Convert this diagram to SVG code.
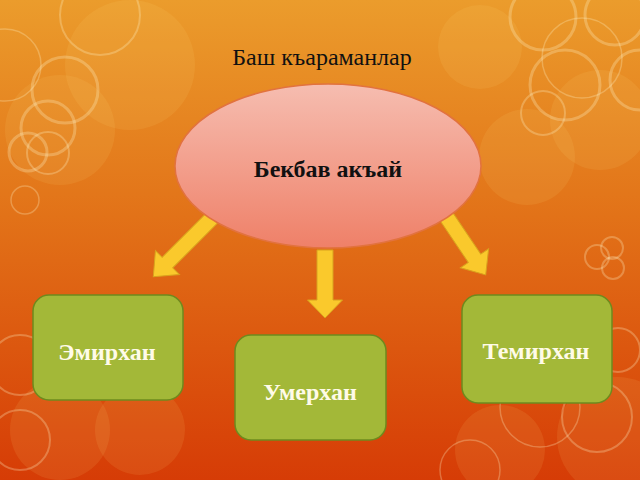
<svg xmlns="http://www.w3.org/2000/svg" width="640" height="480" viewBox="0 0 640 480">
<defs>
<linearGradient id="bg" x1="0" y1="0" x2="0" y2="1">
<stop offset="0" stop-color="#eb9c2c"/>
<stop offset="0.45" stop-color="#e27218"/>
<stop offset="1" stop-color="#d63c06"/>
</linearGradient>
<linearGradient id="ell" x1="0" y1="0" x2="0" y2="1">
<stop offset="0" stop-color="#f6bdb0"/>
<stop offset="1" stop-color="#ef8068"/>
</linearGradient>
<style>
.ring{fill:none;stroke:#fff6c8;stroke-opacity:0.28}
.blob{fill:#ffe080;fill-opacity:0.1}
.box{fill:#a3b838;stroke:#6e8a1e;stroke-width:1.5}
.arrow{fill:#fac92c;stroke:#d9a21e;stroke-width:1}
.lbl{font-family:"Liberation Serif","DejaVu Serif",serif;font-weight:bold;font-size:24px;text-anchor:middle}
</style>
</defs>
<g id="background">
<rect width="640" height="480" fill="url(#bg)"/>
<circle class="blob" cx="130" cy="65" r="65"/>
<circle class="blob" cx="60" cy="130" r="55"/>
<circle class="blob" cx="480" cy="47" r="42"/>
<circle class="blob" cx="527" cy="157" r="48"/>
<circle class="blob" cx="600" cy="120" r="50"/>
<circle class="blob" cx="617" cy="437" r="60"/>
<circle class="blob" cx="60" cy="430" r="50"/>
<circle class="blob" cx="140" cy="430" r="45"/>
<circle class="blob" cx="500" cy="450" r="45"/>
<circle class="ring" cx="65" cy="90" r="33" stroke-width="3"/>
<circle class="ring" cx="48" cy="128" r="27" stroke-width="3"/>
<circle class="ring" cx="28" cy="152" r="19" stroke-width="3"/>
<circle class="ring" cx="48" cy="153" r="21" stroke-width="2"/>
<circle class="ring" cx="5" cy="65" r="36" stroke-width="1.5"/>
<circle class="ring" cx="25" cy="200" r="14" stroke-width="1.5"/>
<circle class="ring" cx="100" cy="15" r="40" stroke-width="2"/>
<circle class="ring" cx="543" cy="17" r="33" stroke-width="3"/>
<circle class="ring" cx="582" cy="58" r="40" stroke-width="1.5"/>
<circle class="ring" cx="565" cy="85" r="35" stroke-width="3"/>
<circle class="ring" cx="543" cy="113" r="22" stroke-width="2"/>
<circle class="ring" cx="640" cy="80" r="30" stroke-width="3"/>
<circle class="ring" cx="615" cy="15" r="30" stroke-width="3"/>
<circle class="ring" cx="597" cy="257" r="12" stroke-width="2"/>
<circle class="ring" cx="612" cy="248" r="11" stroke-width="2"/>
<circle class="ring" cx="613" cy="268" r="11" stroke-width="2"/>
<circle class="ring" cx="618" cy="350" r="22" stroke-width="2"/>
<circle class="ring" cx="597" cy="417" r="35" stroke-width="2"/>
<circle class="ring" cx="540" cy="407" r="40" stroke-width="1.5"/>
<circle class="ring" cx="20" cy="365" r="30" stroke-width="2"/>
<circle class="ring" cx="20" cy="440" r="30" stroke-width="2"/>
<circle class="ring" cx="470" cy="470" r="30" stroke-width="1.5"/>
</g>
<text x="322" y="65" font-family="Liberation Serif, DejaVu Serif, serif" font-size="24" text-anchor="middle" fill="#111">Баш къараманлар</text>
<g id="connectors">
<path class="arrow" transform="translate(212,218) rotate(45)" d="M-7.5,0 L7.5,0 L7.5,63 L17,63 L0,83 L-17,63 L-7.5,63 Z"/>
<path class="arrow" transform="translate(325,250)" d="M-8,0 L8,0 L8,50 L17.5,50 L0,68 L-17.5,50 L-8,50 Z"/>
<path class="arrow" transform="translate(446,216) rotate(-34)" d="M-7.5,0 L7.5,0 L7.5,51 L17,51 L0,71 L-17,51 L-7.5,51 Z"/>
</g>
<g id="node-bekbav">
<ellipse cx="328" cy="166" rx="153" ry="82" fill="url(#ell)" stroke="#e2723e" stroke-width="1.5"/>
<text class="lbl" x="328" y="177" fill="#111">Бекбав акъай</text>
</g>
<g id="node-emirhan">
<rect class="box" x="33" y="295" width="150" height="105" rx="16"/>
<text class="lbl" x="107" y="360" fill="#fffbe8">Эмирхан</text>
</g>
<g id="node-umerhan">
<rect class="box" x="235" y="335" width="151" height="105" rx="16"/>
<text class="lbl" x="310" y="400" fill="#fffbe8">Умерхан</text>
</g>
<g id="node-temirhan">
<rect class="box" x="462" y="295" width="150" height="108" rx="16"/>
<text class="lbl" x="536" y="359" fill="#fffbe8">Темирхан</text>
</g>
</svg>
